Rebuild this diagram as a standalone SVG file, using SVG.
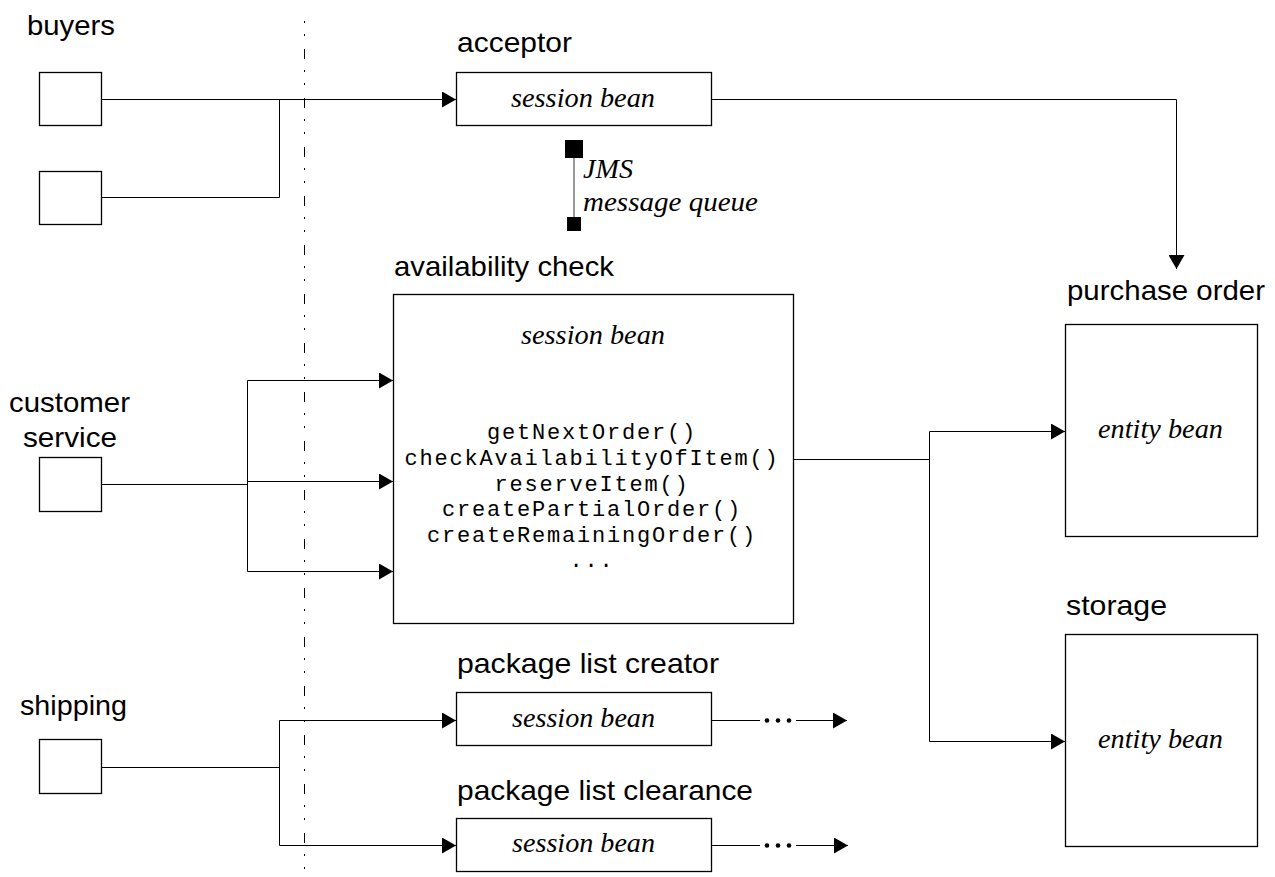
<svg xmlns="http://www.w3.org/2000/svg" width="1275" height="877" viewBox="0 0 1275 877">
  <style>
    .box { fill: #fff; stroke: #000; stroke-width: 1.3; }
    .label { font-family: "Liberation Sans", Arial, sans-serif; font-size: 28px; fill: #000; }
    .kind { font-family: "Liberation Serif", "Times New Roman", serif; font-style: italic; font-size: 28px; fill: #000; }
    .method { font-family: "Liberation Mono", "DejaVu Sans Mono", monospace; font-size: 22px; letter-spacing: 1.8px; fill: #000; text-anchor: middle; }
    .wire { fill: none; stroke: #000; stroke-width: 1; }
    .arrow { marker-end: url(#head); }
    .queue { stroke: #777; stroke-width: 1.5; }
  </style>
  <defs>
    <marker id="head" markerUnits="userSpaceOnUse" markerWidth="14" markerHeight="16" viewBox="0 0 14 16" refX="14" refY="8" orient="auto">
      <path d="M0,0 L14,8 L0,16 z" fill="#000"/>
    </marker>
  </defs>
  <rect width="1275" height="877" fill="#fff"/>

  <!-- boundary between clients and server components -->
  <line x1="304.5" y1="21" x2="304.5" y2="877" stroke="#000" stroke-width="1" stroke-dasharray="2 11 2 13 10 11"/>

  <!-- connectors -->
  <g id="connectors">
    <polyline class="wire arrow" points="101,99.5 456,99.5"/>
    <polyline class="wire" points="101,197.5 279.5,197.5 279.5,99.5"/>
    <polyline class="wire arrow" points="711,99.5 1176.5,99.5 1176.5,269"/>

    <polyline class="wire" points="101,484.5 247.5,484.5"/>
    <polyline class="wire" points="247.5,380.5 247.5,571.5"/>
    <polyline class="wire arrow" points="247.5,380.5 393,380.5"/>
    <polyline class="wire arrow" points="247.5,481.5 393,481.5"/>
    <polyline class="wire arrow" points="247.5,571.5 393,571.5"/>

    <polyline class="wire" points="793,459.5 929.5,459.5"/>
    <polyline class="wire" points="929.5,431.5 929.5,741.5"/>
    <polyline class="wire arrow" points="929.5,431.5 1065,431.5"/>
    <polyline class="wire arrow" points="929.5,741.5 1065,741.5"/>

    <polyline class="wire" points="101,767.5 279.5,767.5"/>
    <polyline class="wire" points="279.5,720.5 279.5,845.5"/>
    <polyline class="wire arrow" points="279.5,720.5 456,720.5"/>
    <polyline class="wire arrow" points="279.5,845.5 456,845.5"/>

    <polyline class="wire" points="711,720.5 760,720.5"/>
    <circle cx="767" cy="720.5" r="2.3"/>
    <circle cx="778" cy="720.5" r="2.3"/>
    <circle cx="789" cy="720.5" r="2.3"/>
    <polyline class="wire arrow" points="796,720.5 847,720.5"/>

    <polyline class="wire" points="711,845.5 760,845.5"/>
    <circle cx="767" cy="845.5" r="2.3"/>
    <circle cx="778" cy="845.5" r="2.3"/>
    <circle cx="789" cy="845.5" r="2.3"/>
    <polyline class="wire arrow" points="796,845.5 848,845.5"/>

    <!-- JMS message queue between acceptor and availability check -->
    <line class="queue" x1="574" y1="158" x2="574" y2="217"/>
    <rect x="565" y="140" width="18" height="18" fill="#000"/>
    <rect x="567" y="217" width="14" height="14" fill="#000"/>
    <text class="kind" x="583" y="178" textLength="50" lengthAdjust="spacingAndGlyphs">JMS</text>
    <text class="kind" x="583" y="211" textLength="175" lengthAdjust="spacingAndGlyphs">message queue</text>
  </g>

  <!-- client groups -->
  <g id="buyers">
    <text class="label" x="27" y="35" textLength="88" lengthAdjust="spacingAndGlyphs">buyers</text>
    <rect class="box" x="39.5" y="72.5" width="62" height="53"/>
    <rect class="box" x="39.5" y="171.5" width="62" height="53"/>
  </g>
  <g id="customer-service">
    <text class="label" x="9" y="412" textLength="121" lengthAdjust="spacingAndGlyphs">customer</text>
    <text class="label" x="23" y="447" textLength="94" lengthAdjust="spacingAndGlyphs">service</text>
    <rect class="box" x="39.5" y="457.5" width="62" height="54"/>
  </g>
  <g id="shipping">
    <text class="label" x="20" y="715" textLength="107" lengthAdjust="spacingAndGlyphs">shipping</text>
    <rect class="box" x="39.5" y="739.5" width="62" height="54"/>
  </g>

  <!-- server components -->
  <g id="acceptor">
    <text class="label" x="457" y="52" textLength="115" lengthAdjust="spacingAndGlyphs">acceptor</text>
    <rect class="box" x="456.5" y="72.5" width="255" height="53"/>
    <text class="kind" x="511" y="107" textLength="144" lengthAdjust="spacingAndGlyphs">session bean</text>
  </g>
  <g id="availability-check">
    <text class="label" x="394" y="276" textLength="220" lengthAdjust="spacingAndGlyphs">availability check</text>
    <rect class="box" x="393.5" y="294.5" width="400" height="329"/>
    <text class="kind" x="521" y="344" textLength="144" lengthAdjust="spacingAndGlyphs">session bean</text>
    <text class="method" x="592" y="439">getNextOrder()</text>
    <text class="method" x="592" y="465">checkAvailabilityOfItem()</text>
    <text class="method" x="592" y="491">reserveItem()</text>
    <text class="method" x="592" y="516">createPartialOrder()</text>
    <text class="method" x="592" y="542">createRemainingOrder()</text>
    <text class="method" x="592" y="567">...</text>
  </g>
  <g id="purchase-order">
    <text class="label" x="1067" y="300" textLength="198" lengthAdjust="spacingAndGlyphs">purchase order</text>
    <rect class="box" x="1065.5" y="324.5" width="192" height="212"/>
    <text class="kind" x="1098" y="438" textLength="125" lengthAdjust="spacingAndGlyphs">entity bean</text>
  </g>
  <g id="storage">
    <text class="label" x="1066" y="615" textLength="101" lengthAdjust="spacingAndGlyphs">storage</text>
    <rect class="box" x="1065.5" y="634.5" width="192" height="212"/>
    <text class="kind" x="1098" y="748" textLength="125" lengthAdjust="spacingAndGlyphs">entity bean</text>
  </g>
  <g id="package-list-creator">
    <text class="label" x="457" y="673" textLength="262" lengthAdjust="spacingAndGlyphs">package list creator</text>
    <rect class="box" x="456.5" y="692.5" width="255" height="53"/>
    <text class="kind" x="512" y="727" textLength="143" lengthAdjust="spacingAndGlyphs">session bean</text>
  </g>
  <g id="package-list-clearance">
    <text class="label" x="457" y="800" textLength="296" lengthAdjust="spacingAndGlyphs">package list clearance</text>
    <rect class="box" x="456.5" y="818.5" width="255" height="53"/>
    <text class="kind" x="512" y="852" textLength="143" lengthAdjust="spacingAndGlyphs">session bean</text>
  </g>
</svg>
